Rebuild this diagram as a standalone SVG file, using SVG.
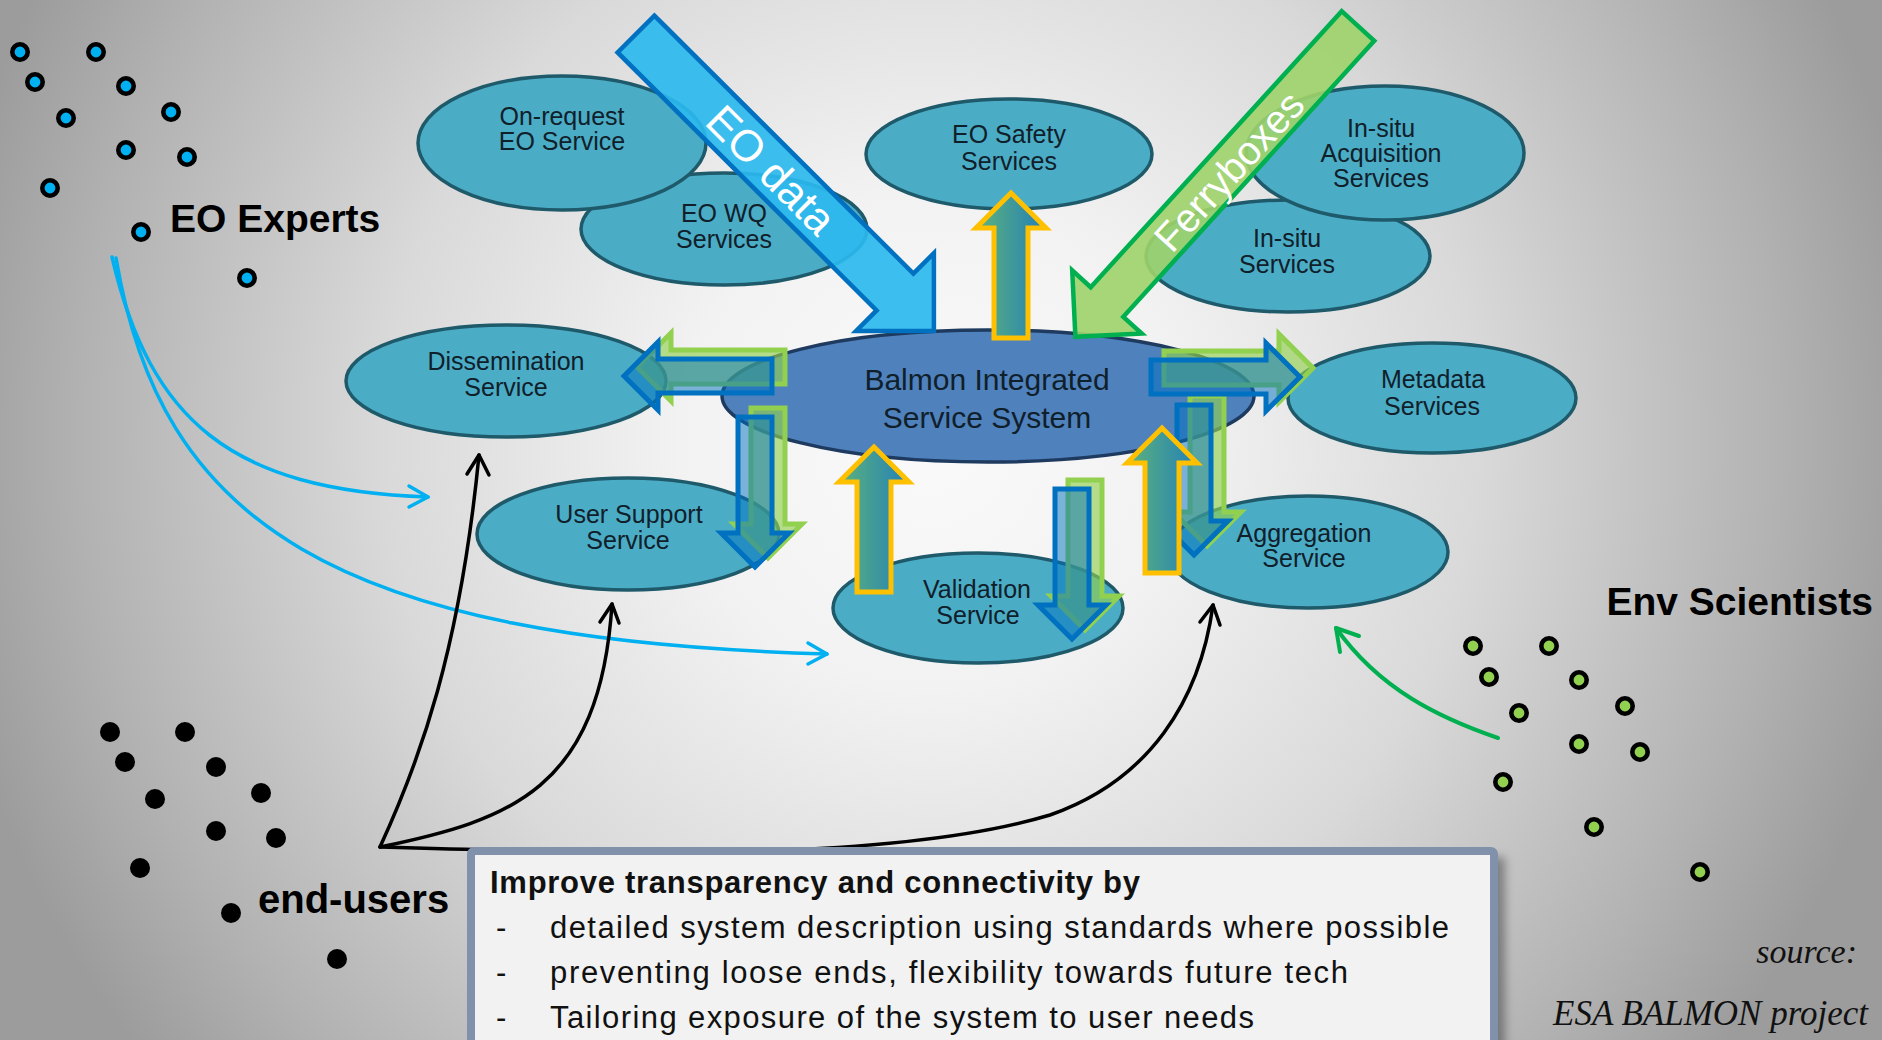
<svg xmlns="http://www.w3.org/2000/svg" width="1882" height="1040" viewBox="0 0 1882 1040">
<defs>
  <radialGradient id="bg" gradientUnits="userSpaceOnUse" cx="930" cy="440" r="1000">
    <stop offset="0" stop-color="#fafafa"/>
    <stop offset="0.25" stop-color="#f2f2f2"/>
    <stop offset="0.55" stop-color="#d9d9d9"/>
    <stop offset="0.85" stop-color="#b2b2b2"/>
    <stop offset="1" stop-color="#9c9c9c"/>
  </radialGradient>
  <linearGradient id="gold" x1="0" y1="0" x2="1" y2="0">
    <stop offset="0" stop-color="#5db37a"/>
    <stop offset="1" stop-color="#2380b8"/>
  </linearGradient>
  <filter id="shadow" x="-5%" y="-20%" width="110%" height="140%">
    <feGaussianBlur stdDeviation="5"/>
  </filter>
</defs>
<style>
  .svc { fill:#4bacc6; stroke:#1f5a6b; stroke-width:3.5; }
  .core { fill:#4f81bd; stroke:#1e3a5f; stroke-width:3.5; }
  .lbl { font-family:"Liberation Sans", Arial, sans-serif; font-size:25px; fill:#10202a; text-anchor:middle; }
  .lblc { font-family:"Liberation Sans", Arial, sans-serif; font-size:30px; fill:#10202a; text-anchor:middle; }
  .up { fill:url(#gold); stroke:#ffc000; stroke-width:5; }
  .bl { fill:#0070c0; fill-opacity:0.5; stroke:#0070c0; stroke-width:5; }
  .gr { fill:#92d050; fill-opacity:0.65; stroke:#92d050; stroke-width:5; }
  .eod { fill:#2bb8ee; fill-opacity:0.92; stroke:#0070c0; stroke-width:4.5; }
  .fer { fill:#9fd36a; fill-opacity:0.9; stroke:#00b050; stroke-width:4.5; }
  .big { font-family:"Liberation Sans", Arial, sans-serif; fill:#ffffff; text-anchor:middle; }
  .dotb { fill:#00b0f0; stroke:#000; stroke-width:4.6; }
  .dotg { fill:#92d050; stroke:#000; stroke-width:4.6; }
  .dotk { fill:#000; }
  .grp { font-family:"Liberation Sans", Arial, sans-serif; font-weight:bold; fill:#000; }
  .cb { fill:none; stroke:#00b0f0; stroke-width:3.5; stroke-linecap:round; stroke-linejoin:round; }
  .ck { fill:none; stroke:#000; stroke-width:3.5; stroke-linecap:round; stroke-linejoin:round; }
  .cg { fill:none; stroke:#00b050; stroke-width:4; stroke-linecap:round; stroke-linejoin:round; }
  .box { font-family:"Liberation Sans", Arial, sans-serif; font-size:31px; fill:#111; }
  .src { font-family:"Liberation Serif", "Times New Roman", serif; font-style:italic; fill:#111; text-anchor:end; }
</style>

<rect x="0" y="0" width="1882" height="1040" fill="url(#bg)"/>

<!-- service nodes -->
<g id="n-eowq">
  <ellipse class="svc" cx="724" cy="229" rx="143" ry="56"/>
  <text class="lbl" x="724" y="222">EO WQ</text>
  <text class="lbl" x="724" y="248">Services</text>
</g>
<g id="n-onrequest">
  <ellipse class="svc" cx="562" cy="143" rx="144" ry="67"/>
  <text class="lbl" x="562" y="125">On-request</text>
  <text class="lbl" x="562" y="150">EO Service</text>
</g>
<g id="n-eosafety">
  <ellipse class="svc" cx="1009" cy="154" rx="143" ry="55"/>
  <text class="lbl" x="1009" y="143">EO Safety</text>
  <text class="lbl" x="1009" y="170">Services</text>
</g>
<g id="n-insitu">
  <ellipse class="svc" cx="1288" cy="256" rx="142" ry="56"/>
  <text class="lbl" x="1287" y="247">In-situ</text>
  <text class="lbl" x="1287" y="273">Services</text>
</g>
<g id="n-insitu-acq">
  <ellipse class="svc" cx="1385" cy="153" rx="139" ry="67"/>
  <text class="lbl" x="1381" y="137">In-situ</text>
  <text class="lbl" x="1381" y="162">Acquisition</text>
  <text class="lbl" x="1381" y="187">Services</text>
</g>
<g id="n-dissemination">
  <ellipse class="svc" cx="506" cy="381" rx="160" ry="56"/>
  <text class="lbl" x="506" y="370">Dissemination</text>
  <text class="lbl" x="506" y="396">Service</text>
</g>
<g id="n-metadata">
  <ellipse class="svc" cx="1432" cy="398" rx="144" ry="55"/>
  <text class="lbl" x="1433" y="388">Metadata</text>
  <text class="lbl" x="1432" y="415">Services</text>
</g>
<g id="n-usersupport">
  <ellipse class="svc" cx="628" cy="534" rx="151" ry="56"/>
  <text class="lbl" x="629" y="523">User Support</text>
  <text class="lbl" x="628" y="549">Service</text>
</g>
<g id="n-validation">
  <ellipse class="svc" cx="978" cy="608" rx="145" ry="55"/>
  <text class="lbl" x="977" y="598">Validation</text>
  <text class="lbl" x="978" y="624">Service</text>
</g>
<g id="n-aggregation">
  <ellipse class="svc" cx="1308" cy="552" rx="140" ry="56"/>
  <text class="lbl" x="1304" y="542">Aggregation</text>
  <text class="lbl" x="1304" y="567">Service</text>
</g>
<g id="n-balmon">
  <ellipse class="core" cx="988" cy="396" rx="266" ry="66"/>
  <text class="lblc" x="987" y="390">Balmon Integrated</text>
  <text class="lblc" x="987" y="428">Service System</text>
</g>

<!-- data input arrows -->
<g id="n-eodata">
  <polygon class="eod" points="654.4,15.6 913.4,273.6 933.9,253.1 933.9,330.9 856.1,330.9 876.6,310.4 617.6,52.4"/>
  <text class="big" font-size="44" x="771" y="185" transform="rotate(45 771 170)">EO data</text>
</g>
<g id="n-ferryboxes">
  <polygon class="fer" points="1374.3,40.8 1123.3,316.8 1141.8,333.6 1075.4,336.8 1072.2,270.4 1090.7,287.2 1341.7,11.2"/>
  <text class="big" font-size="40" x="1229" y="185" transform="rotate(-47.7 1229 171)">Ferryboxes</text>
</g>

<!-- exchange arrows -->
<g id="flow-arrows">
  <g transform="translate(13 -9)">
    <polygon class="gr" points="772,359 658,359 658,342 624,376 658,410 658,393 772,393"/>
    <polygon class="gr" points="738,417 772,417 772,533 789,533 755,567 721,533 738,533"/>
    <polygon class="gr" points="1055,489 1089,489 1089,605 1106,605 1072,639 1038,605 1055,605"/>
    <polygon class="gr" points="1151,360 1266,360 1266,343 1300,377 1266,411 1266,394 1151,394"/>
    <polygon class="gr" points="1177,405 1211,405 1211,521 1228,521 1194,555 1160,521 1177,521"/>
  </g>
  <polygon class="bl" points="772,359 658,359 658,342 624,376 658,410 658,393 772,393"/>
  <polygon class="bl" points="738,417 772,417 772,533 789,533 755,567 721,533 738,533"/>
  <polygon class="bl" points="1055,489 1089,489 1089,605 1106,605 1072,639 1038,605 1055,605"/>
  <polygon class="bl" points="1151,360 1266,360 1266,343 1300,377 1266,411 1266,394 1151,394"/>
  <polygon class="bl" points="1177,405 1211,405 1211,521 1228,521 1194,555 1160,521 1177,521"/>
  <polygon class="up" points="1011,193 1046,228 1028,228 1028,338 994,338 994,228 976,228"/>
  <polygon class="up" points="874,447 909,482 891,482 891,592 857,592 857,482 839,482"/>
  <polygon class="up" points="1162,428 1197,463 1179,463 1179,573 1145,573 1145,463 1127,463"/>
</g>

<!-- user groups -->
<g id="n-eo-experts">
  <circle class="dotb" cx="20" cy="52" r="7.7"/>
  <circle class="dotb" cx="96" cy="52" r="7.7"/>
  <circle class="dotb" cx="35" cy="82" r="7.7"/>
  <circle class="dotb" cx="126" cy="86" r="7.7"/>
  <circle class="dotb" cx="66" cy="118" r="7.7"/>
  <circle class="dotb" cx="171" cy="112" r="7.7"/>
  <circle class="dotb" cx="126" cy="150" r="7.7"/>
  <circle class="dotb" cx="187" cy="157" r="7.7"/>
  <circle class="dotb" cx="50" cy="188" r="7.7"/>
  <circle class="dotb" cx="141" cy="232" r="7.7"/>
  <circle class="dotb" cx="247" cy="278" r="7.7"/>
  <text class="grp" font-size="39" x="170" y="232">EO Experts</text>
</g>
<g id="n-end-users">
  <circle class="dotk" cx="110" cy="732" r="10"/>
  <circle class="dotk" cx="185" cy="732" r="10"/>
  <circle class="dotk" cx="125" cy="762" r="10"/>
  <circle class="dotk" cx="216" cy="767" r="10"/>
  <circle class="dotk" cx="155" cy="799" r="10"/>
  <circle class="dotk" cx="261" cy="793" r="10"/>
  <circle class="dotk" cx="216" cy="831" r="10"/>
  <circle class="dotk" cx="276" cy="838" r="10"/>
  <circle class="dotk" cx="140" cy="868" r="10"/>
  <circle class="dotk" cx="231" cy="913" r="10"/>
  <circle class="dotk" cx="337" cy="959" r="10"/>
  <text class="grp" font-size="40" x="258" y="913">end-users</text>
</g>
<g id="n-env-scientists">
  <circle class="dotg" cx="1473" cy="646" r="7.7"/>
  <circle class="dotg" cx="1549" cy="646" r="7.7"/>
  <circle class="dotg" cx="1489" cy="677" r="7.7"/>
  <circle class="dotg" cx="1579" cy="680" r="7.7"/>
  <circle class="dotg" cx="1519" cy="713" r="7.7"/>
  <circle class="dotg" cx="1625" cy="706" r="7.7"/>
  <circle class="dotg" cx="1579" cy="744" r="7.7"/>
  <circle class="dotg" cx="1640" cy="752" r="7.7"/>
  <circle class="dotg" cx="1503" cy="782" r="7.7"/>
  <circle class="dotg" cx="1594" cy="827" r="7.7"/>
  <circle class="dotg" cx="1700" cy="872" r="7.7"/>
  <text class="grp" font-size="39" x="1873" y="615" text-anchor="end">Env Scientists</text>
</g>

<!-- connectors -->
<g id="connectors">
  <path class="cb" d="M112,257 C150,420 230,490 428,497"/>
  <polyline class="cb" points="409,486 428,497 409,507"/>
  <path class="cb" d="M116,258 C160,520 330,640 827,654"/>
  <polyline class="cb" points="808,643 827,654 808,664"/>
  <path class="cg" d="M1498,738 C1440,718 1380,690 1336,628"/>
  <polyline class="cg" points="1340,652 1336,628 1359,636"/>
  <path class="ck" d="M380,847 C420,760 460,650 479,455"/>
  <polyline class="ck" points="467,474 479,455 489,475"/>
  <path class="ck" d="M380,847 C510,820 600,790 612,604"/>
  <polyline class="ck" points="600,622 612,604 619,623"/>
  <path class="ck" d="M380,847 C650,855 900,860 1050,815 C1150,780 1200,700 1213,605"/>
  <polyline class="ck" points="1200,622 1213,605 1220,625"/>
</g>

<!-- text box -->
<g id="n-notes">
  <rect x="479" y="857" width="1026" height="200" fill="#000" fill-opacity="0.35" filter="url(#shadow)"/>
  <rect x="471" y="851" width="1023" height="200" rx="3" fill="#f2f2f2" stroke="#8191ab" stroke-width="8"/>
  <text class="box" font-weight="bold" x="490" y="893" textLength="650">Improve transparency and connectivity by</text>
  <text class="box" x="496" y="938">-</text>
  <text class="box" x="550" y="938" textLength="899">detailed system description using standards where possible</text>
  <text class="box" x="496" y="983">-</text>
  <text class="box" x="550" y="983" textLength="798">preventing loose ends, flexibility towards future tech</text>
  <text class="box" x="496" y="1028">-</text>
  <text class="box" x="550" y="1028" textLength="704">Tailoring exposure of the system to user needs</text>
</g>

<g id="n-source">
  <text class="src" font-size="34" x="1857" y="963">source:</text>
  <text class="src" font-size="35" x="1868" y="1025">ESA BALMON project</text>
</g>
</svg>
